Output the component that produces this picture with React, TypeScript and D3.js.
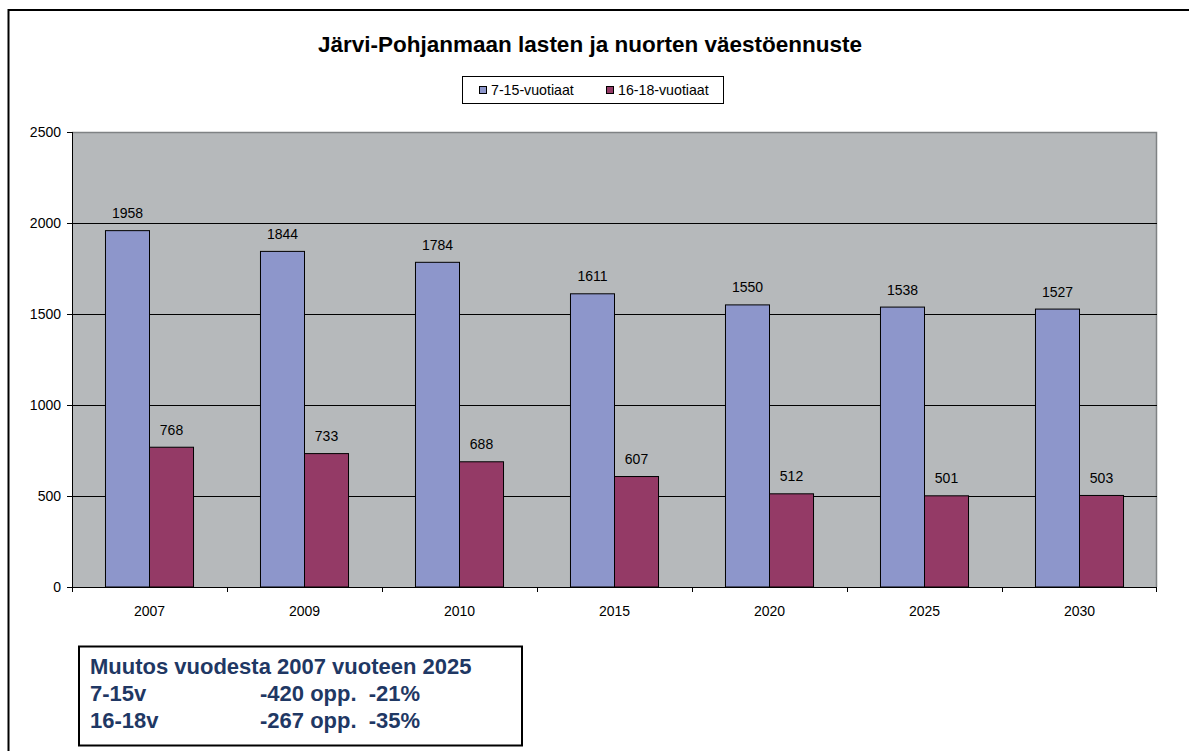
import React from 'react';
import * as d3 from 'd3';

const years = ['2007', '2009', '2010', '2015', '2020', '2025', '2030'];
const youngerValues = [1958, 1844, 1784, 1611, 1550, 1538, 1527];
const olderValues = [768, 733, 688, 607, 512, 501, 503];
const seriesNames = ['7-15-vuotiaat', '16-18-vuotiaat'];
const seriesColors = ['#8D96CB', '#943A66'];
const yTicks = [0, 500, 1000, 1500, 2000, 2500];

const summaryTitle = 'Muutos vuodesta 2007 vuoteen 2025';
const summaryRows = [
  ['7-15v', '-420 opp.  -21%'],
  ['16-18v', '-267 opp.  -35%'],
];

const W = 1189;
const H = 751;
const plot = { left: 72, right: 1157, top: 132, bottom: 587 };

export default function App() {
  const x = d3.scaleBand().domain(years).range([plot.left, plot.right]);
  const y = d3.scaleLinear().domain([0, 2500]).range([plot.bottom, plot.top]);
  const barW = x.bandwidth() * 0.284;

  const series = [youngerValues, olderValues];
  const font = 'Arial, "Liberation Sans", sans-serif';

  return (
    <svg
      width={W}
      height={H}
      style={{ position: 'absolute', left: 0, top: 0, fontFamily: font }}
    >
      <rect x={0} y={0} width={W} height={H} fill="#fff" />
      {/* outer chart frame, open on the right and bottom */}
      <path d={`M1195,10 H8.5 V760`} fill="none" stroke="#000" strokeWidth={2} />

      <text x={590} y={52} textAnchor="middle" fontSize={22.5} fontWeight="bold">
        Järvi-Pohjanmaan lasten ja nuorten väestöennuste
      </text>

      {/* legend */}
      <rect x={462.5} y={76.5} width={261} height={27} fill="#fff" stroke="#000" />
      {seriesNames.map((name, i) => {
        const lx = i === 0 ? 479 : 606;
        return (
          <g key={name}>
            <rect x={lx + 0.5} y={86.5} width={7} height={7} fill={seriesColors[i]} stroke="#000" />
            <text x={lx + 12} y={95} fontSize={14.2}>
              {name}
            </text>
          </g>
        );
      })}

      {/* plot area */}
      <rect
        x={plot.left}
        y={plot.top}
        width={plot.right - plot.left}
        height={plot.bottom - plot.top}
        fill="#B6B9BB"
      />
      <path
        d={`M${plot.left},${plot.top + 0.5} H${plot.right - 0.5} V${plot.bottom}`}
        fill="none"
        stroke="#7F8284"
        strokeWidth={1.5}
      />

      {yTicks.slice(1, -1).map((t) => (
        <line
          key={t}
          x1={plot.left}
          x2={plot.right}
          y1={Math.round(y(t)) + 0.5}
          y2={Math.round(y(t)) + 0.5}
          stroke="#000"
        />
      ))}

      {/* bars */}
      {years.map((yr, ci) => {
        const cx = (x(yr) as number) + x.bandwidth() / 2;
        return series.map((vals, si) => {
          const bx = cx - barW + si * barW;
          const top = y(vals[ci]);
          return (
            <g key={yr + si}>
              <rect
                x={bx}
                y={top}
                width={barW}
                height={plot.bottom - top}
                fill={seriesColors[si]}
                stroke="#000"
                strokeWidth={1}
              />
              <text x={bx + barW / 2} y={top - 12.5} textAnchor="middle" fontSize={14}>
                {vals[ci]}
              </text>
            </g>
          );
        });
      })}

      {/* y axis */}
      <line x1={plot.left + 0.5} x2={plot.left + 0.5} y1={plot.top} y2={plot.bottom} stroke="#000" />
      {yTicks.map((t) => (
        <g key={t}>
          <line
            x1={plot.left - 5}
            x2={plot.left}
            y1={Math.round(y(t)) + 0.5}
            y2={Math.round(y(t)) + 0.5}
            stroke="#000"
          />
          <text x={plot.left - 11} y={y(t) + 5} textAnchor="end" fontSize={14}>
            {t}
          </text>
        </g>
      ))}

      {/* x axis */}
      <line x1={plot.left} x2={plot.right} y1={plot.bottom + 0.5} y2={plot.bottom + 0.5} stroke="#000" />
      {years.map((yr) => (
        <line
          key={'t' + yr}
          x1={Math.round(x(yr) as number) + 0.5}
          x2={Math.round(x(yr) as number) + 0.5}
          y1={plot.bottom}
          y2={plot.bottom + 5}
          stroke="#000"
        />
      ))}
      <line x1={plot.right - 0.5} x2={plot.right - 0.5} y1={plot.bottom} y2={plot.bottom + 5} stroke="#000" />
      {years.map((yr) => (
        <text
          key={'l' + yr}
          x={(x(yr) as number) + x.bandwidth() / 2}
          y={616}
          textAnchor="middle"
          fontSize={14}
        >
          {yr}
        </text>
      ))}

      {/* summary box */}
      <rect x={79} y={646.5} width={443} height={99} fill="#fff" stroke="#000" strokeWidth={2} />
      <g fill="#1F3864" fontSize={22} fontWeight="bold">
        <text x={90} y={674}>{summaryTitle}</text>
        {summaryRows.map((row, i) => (
          <g key={row[0]}>
            <text x={90} y={701 + i * 27}>{row[0]}</text>
            <text x={260} y={701 + i * 27} style={{ whiteSpace: 'pre' }}>
              {row[1]}
            </text>
          </g>
        ))}
      </g>
    </svg>
  );
}
